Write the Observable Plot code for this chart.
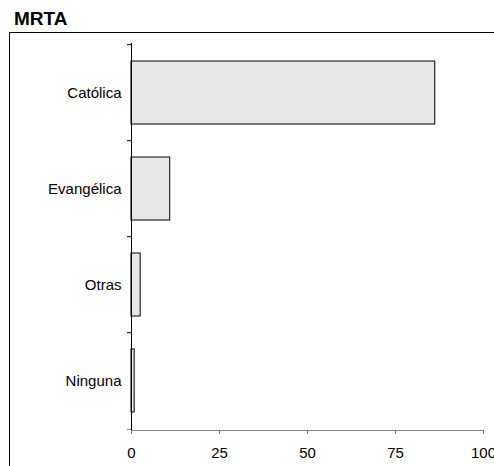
<!DOCTYPE html>
<html>
<head>
<meta charset="utf-8">
<script src="https://cdn.jsdelivr.net/npm/d3@7"></script>
<script src="https://cdn.jsdelivr.net/npm/@observablehq/plot@0.6"></script>
<style>
  html, body { margin: 0; padding: 0; background: #fff; overflow: hidden; }
  #wrap { position: relative; width: 494px; height: 466px; font-family: "Liberation Sans", Arial, sans-serif; }
  #title { position: absolute; left: 14px; top: 8px; font-size: 19px; font-weight: bold; line-height: 22px; color: #000; }
  #frame { position: absolute; left: 9px; top: 32px; width: 700px; height: 700px; border-left: 1px solid #000; border-top: 1px solid #000; z-index: 2; pointer-events: none; }
  #chart { position: absolute; left: 0; top: 32px; z-index: 1; }
  #chart svg { background: transparent !important; }
</style>
</head>
<body>
<div id="wrap">
  <div id="title">MRTA</div>
  <div id="frame"></div>
  <div id="chart"></div>
</div>
<script>
const title = "MRTA";
const categories = ["Católica", "Evangélica", "Otras", "Ninguna"];
const values = [86.3, 11.0, 2.6, 0.9];
const xTicks = [0, 25, 50, 75, 100];

const data = categories.map((c, i) => ({religion: c, value: values[i]}));

const width = 494, height = 434;
const marginLeft = 131, marginRight = 11, marginTop = 11, marginBottom = 36;
const step = (height - marginTop - marginBottom) / categories.length;
const pxPerUnit = (width - marginLeft - marginRight) / 100;

const chart = Plot.plot({
  width, height, marginLeft, marginRight, marginTop, marginBottom,
  style: {fontFamily: "'Liberation Sans', Arial, sans-serif", fontSize: "15px", color: "#000", background: "transparent", overflow: "visible"},
  x: {domain: [0, 100], ticks: xTicks},
  y: {domain: categories, paddingInner: 0.34, paddingOuter: 0.17},
  marks: [
    Plot.frame({anchor: "bottom", stroke: "#808080"}),
    Plot.ruleY(categories, {y: d => d, x1: -4 / pxPerUnit, x2: 0, dy: -step / 2, stroke: "#000"}),
    Plot.ruleY([categories[categories.length - 1]], {y: d => d, x1: -4 / pxPerUnit, x2: 0, dy: step / 2, stroke: "#808080"}),
    Plot.barX(data, {y: "religion", x: "value", fill: "#e8e8e8", stroke: "#000", strokeWidth: 1}),
    Plot.ruleX([0], {stroke: "#000", insetBottom: -4}),
    Plot.axisX({ticks: xTicks, tickSize: 4, tickPadding: 13, stroke: "#808080", fill: "#000", label: null, fontSize: 15}),
    Plot.axisY({tickSize: 0, tickPadding: 10, label: null, fill: "#000", fontSize: 15})
  ]
});
document.getElementById("chart").appendChild(chart);
</script>
</body>
</html>
